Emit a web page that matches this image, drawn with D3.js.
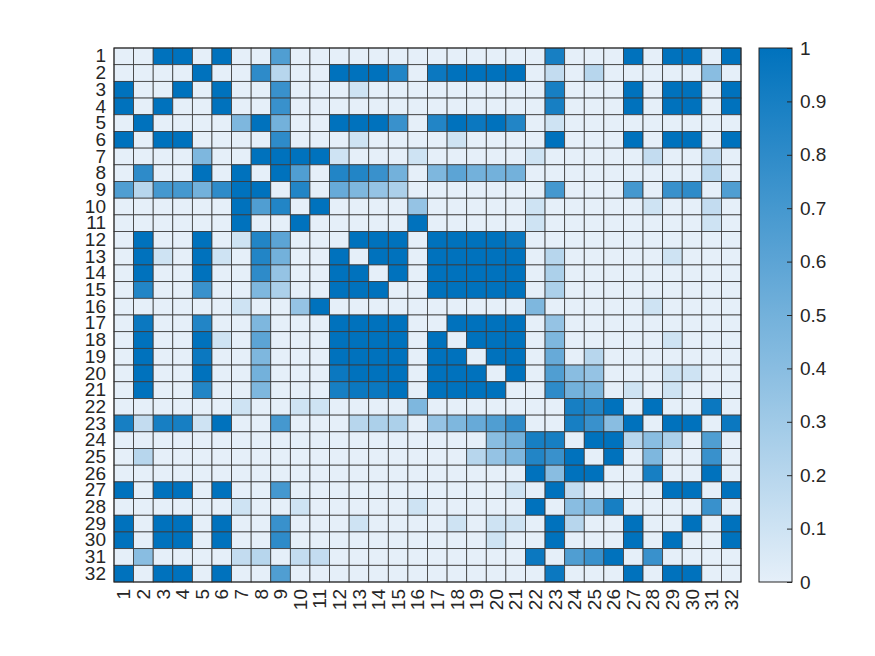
<!DOCTYPE html>
<html>
<head>
<meta charset="utf-8">
<script src="https://cdn.jsdelivr.net/npm/d3@7"></script>
<style>
  html, body { margin: 0; padding: 0; background: #ffffff; }
  svg { display: block; font-family: "Liberation Sans", Arial, sans-serif; }
</style>
</head>
<body>
<svg id="chart" width="875" height="656"></svg>
<script>
// ---- data ----
const labels = d3.range(1, 33).map(String);
const colorbarTicks = [0, 0.1, 0.2, 0.3, 0.4, 0.5, 0.6, 0.7, 0.8, 0.9, 1];
const matrix = [
  [0,0,1,1,0,1,0,0,.65,0,0, 0,0,0,0,0,0,0,0,0,0,0, .9,0,0,0,1,0,1,1,0,1],
  [0,0,0,0,1,0,0,.8,.2,0,0, 1,1,1,.85,0,.95,1,1,1,1,0, .15,0,.2,0,0,0,0,0,.4,0],
  [1,0,0,1,0,1,0,0,.75,0,0, 0,.1,0,0,0,0,0,0,0,0,0, .9,0,0,0,1,0,1,1,0,1],
  [1,0,1,0,0,1,0,0,.75,0,0, 0,0,0,0,0,0,0,0,0,0,0, .9,0,0,0,1,0,1,1,0,1],
  [0,1,0,0,0,0,.45,1,.5,0,0, 1,1,1,.75,0,.85,1,.95,1,.85,0, .1,0,0,0,0,0,0,0,0,0],
  [1,0,1,1,0,0,0,0,.8,0,0, 0,.1,0,0,0,0,.1,0,0,0,0, 1,0,0,0,1,0,1,1,0,1],
  [0,0,0,0,.45,0,0,1,1,1,1, .1,0,0,0,.1,0,0,0,0,0,.1, 0,0,0,0,0,.15,0,0,.15,0],
  [0,.8,0,0,1,0,1,0,1,.65,0, .85,.85,.75,.5,0,.45,.6,.5,.5,.5,0, 0,0,0,0,0,0,0,0,.2,0],
  [.65,.2,.7,.7,.5,.8,1,1,0,.85,0, .55,.45,.35,.25,0,0,0,0,0,0,0, .7,0,0,0,.7,0,.75,.8,0,.65],
  [0,0,0,0,0,0,1,.65,.85,0,1, 0,0,0,0,.35,0,0,0,0,0,.1, 0,0,0,0,0,.1,0,0,.15,0],
  [0,0,0,0,0,0,1,0,0,1,0, 0,0,0,0,1,0,0,0,0,0,.1, 0,0,0,0,0,0,0,0,.1,0],
  [0,1,0,0,1,0,.1,.85,.6,0,0, 0,1,1,1,0,1,1,1,1,.95,0, 0,0,0,0,0,0,0,0,0,0],
  [0,1,.1,0,1,.1,0,.85,.5,0,0, 1,0,1,1,0,1,1,1,1,1,0, .2,0,0,0,0,0,.1,0,0,0],
  [0,1,0,0,1,0,0,.8,.35,0,0, 1,1,0,1,0,1,1,1,1,1,0, .25,0,0,0,0,0,0,0,0,0],
  [0,.85,0,0,.75,0,0,.45,.25,0,0, 1,1,1,0,0,1,1,1,1,1,0, .25,0,0,0,0,0,0,0,0,0],
  [0,0,0,0,0,0,.1,0,0,.35,1, 0,0,0,0,0,0,0,0,0,0,.45, 0,0,0,0,0,.1,0,0,0,0],
  [0,.95,0,0,.85,0,0,.45,0,0,0, 1,1,1,1,0,0,1,1,1,1,0, .35,0,0,0,0,0,0,0,0,0],
  [0,1,0,0,1,.1,0,.6,0,0,0, 1,1,1,1,0,1,0,1,1,1,0, .45,0,0,0,0,0,.1,0,0,0],
  [0,1,0,0,.95,0,0,.45,0,0,0, 1,1,1,1,0,1,1,0,1,1,0, .55,0,.2,0,0,0,0,0,0,0],
  [0,1,0,0,1,0,0,.5,0,0,0, .95,1,1,1,0,1,1,1,0,1,0, .65,.4,.35,0,0,0,.1,.1,0,0],
  [0,1,0,0,.85,0,0,.45,0,0,0, .9,.95,.95,1,0,1,1,1,1,0,0, .8,.5,.45,0,.1,0,.1,0,0,0],
  [0,0,0,0,0,0,.1,0,0,.1,.1, 0,0,0,0,.45,0,0,0,0,0,0, 0,.9,.85,1,0,1,0,0,.95,0],
  [.9,.15,.9,.9,.1,1,0,0,.7,0,0, 0,.2,.25,.25,0,.35,.45,.55,.65,.8,0, 0,.9,.75,.4,1,0,1,1,0,.95],
  [0,0,0,0,0,0,0,0,0,0,0, 0,0,0,0,0,0,0,0,.4,.5,.9, .9,0,1,1,.2,.4,.25,0,.65,0],
  [0,.2,0,0,0,0,0,0,0,0,0, 0,0,0,0,0,0,0,.2,.35,.45,.85, .75,1,0,1,0,.45,0,0,.75,0],
  [0,0,0,0,0,0,0,0,0,0,0, 0,0,0,0,0,0,0,0,0,0,1, .4,1,1,0,0,.9,0,0,1,0],
  [1,0,1,1,0,1,0,0,.7,0,0, 0,0,0,0,0,0,0,0,0,.1,0, 1,.15,0,0,0,0,1,1,0,1],
  [0,0,0,0,0,0,.1,0,0,.1,0, 0,0,0,0,.1,0,0,0,0,0,1, 0,.4,.45,.9,0,0,0,0,.75,0],
  [1,0,1,1,0,1,0,0,.75,0,0, 0,.1,0,0,0,0,.1,0,.1,.1,0, 1,.2,0,0,1,0,0,1,0,1],
  [1,0,1,1,0,1,0,0,.8,0,0, 0,0,0,0,0,0,0,0,.1,0,0, 1,0,0,0,1,0,1,0,0,1],
  [0,.4,0,0,0,0,.15,.2,0,.15,.15, 0,0,0,0,0,0,0,0,0,0,.95, 0,.65,.75,1,0,.75,0,0,0,0],
  [1,0,1,1,0,1,0,0,.65,0,0, 0,0,0,0,0,0,0,0,0,0,0, .95,0,0,0,1,0,1,1,0,0]
];

// ---- layout ----
const plot = { left: 114, top: 48, right: 741, bottom: 582 };
const cb = { left: 759, right: 792, top: 48, bottom: 582 };
const fontSize = 19;
const textColor = "#262626";

const svg = d3.select("#chart");

const x = d3.scaleBand().domain(labels).range([plot.left, plot.right]).paddingInner(0).paddingOuter(0);
const y = d3.scaleBand().domain(labels).range([plot.top, plot.bottom]).paddingInner(0).paddingOuter(0);
const color = d3.scaleLinear().domain([0, 1]).range(["#e5eff9", "#0072bd"]).interpolate(d3.interpolateRgb).clamp(true);

const cells = [];
matrix.forEach((row, i) => row.forEach((v, j) => cells.push({ r: labels[i], c: labels[j], v })));

svg.append("g")
  .selectAll("rect")
  .data(cells)
  .join("rect")
  .attr("x", d => x(d.c))
  .attr("y", d => y(d.r))
  .attr("width", x.bandwidth())
  .attr("height", y.bandwidth())
  .attr("fill", d => color(d.v))
  .attr("stroke", "#3a3a3a")
  .attr("stroke-width", 0.8);

// outer frame
svg.append("rect")
  .attr("x", plot.left).attr("y", plot.top)
  .attr("width", plot.right - plot.left).attr("height", plot.bottom - plot.top)
  .attr("fill", "none").attr("stroke", "#262626").attr("stroke-width", 1);

// y axis labels
const yAxis = d3.axisLeft(y).tickSize(0).tickPadding(8);
const gy = svg.append("g").attr("transform", `translate(${plot.left},0)`).call(yAxis);
gy.select(".domain").remove();
gy.selectAll("text")
  .attr("font-size", fontSize)
  .attr("font-family", "Liberation Sans, Arial, sans-serif")
  .attr("fill", textColor);

// x axis labels (rotated)
const xAxis = d3.axisBottom(x).tickSize(0).tickPadding(0);
const gx = svg.append("g").attr("transform", `translate(0,${plot.bottom})`).call(xAxis);
gx.select(".domain").remove();
gx.selectAll("text")
  .attr("font-size", fontSize)
  .attr("font-family", "Liberation Sans, Arial, sans-serif")
  .attr("fill", textColor)
  .attr("text-anchor", "end")
  .attr("transform", "rotate(-90)")
  .attr("x", -7)
  .attr("y", 0)
  .attr("dy", "0.35em");

// ---- colorbar ----
const defs = svg.append("defs");
const grad = defs.append("linearGradient")
  .attr("id", "cbgrad")
  .attr("x1", "0").attr("y1", "1").attr("x2", "0").attr("y2", "0");
colorbarTicks.forEach(t => {
  grad.append("stop").attr("offset", t).attr("stop-color", color(t));
});
svg.append("rect")
  .attr("x", cb.left).attr("y", cb.top)
  .attr("width", cb.right - cb.left).attr("height", cb.bottom - cb.top)
  .attr("fill", "url(#cbgrad)")
  .attr("stroke", "#262626").attr("stroke-width", 1);

const cbScale = d3.scaleLinear().domain([0, 1]).range([cb.bottom, cb.top]);
const cbAxis = d3.axisRight(cbScale).tickValues(colorbarTicks).tickSize(0).tickPadding(8)
  .tickFormat(d => d3.format("")(+d.toFixed(1)));
const gcb = svg.append("g").attr("transform", `translate(${cb.right},0)`).call(cbAxis);
gcb.select(".domain").remove();
gcb.selectAll("text")
  .attr("font-size", fontSize)
  .attr("font-family", "Liberation Sans, Arial, sans-serif")
  .attr("fill", textColor);
// inward ticks on the right edge
gcb.selectAll(".tick").append("line")
  .attr("x1", 0).attr("x2", -5).attr("y1", 0).attr("y2", 0)
  .attr("stroke", "#262626").attr("stroke-width", 1);
</script>
</body>
</html>
